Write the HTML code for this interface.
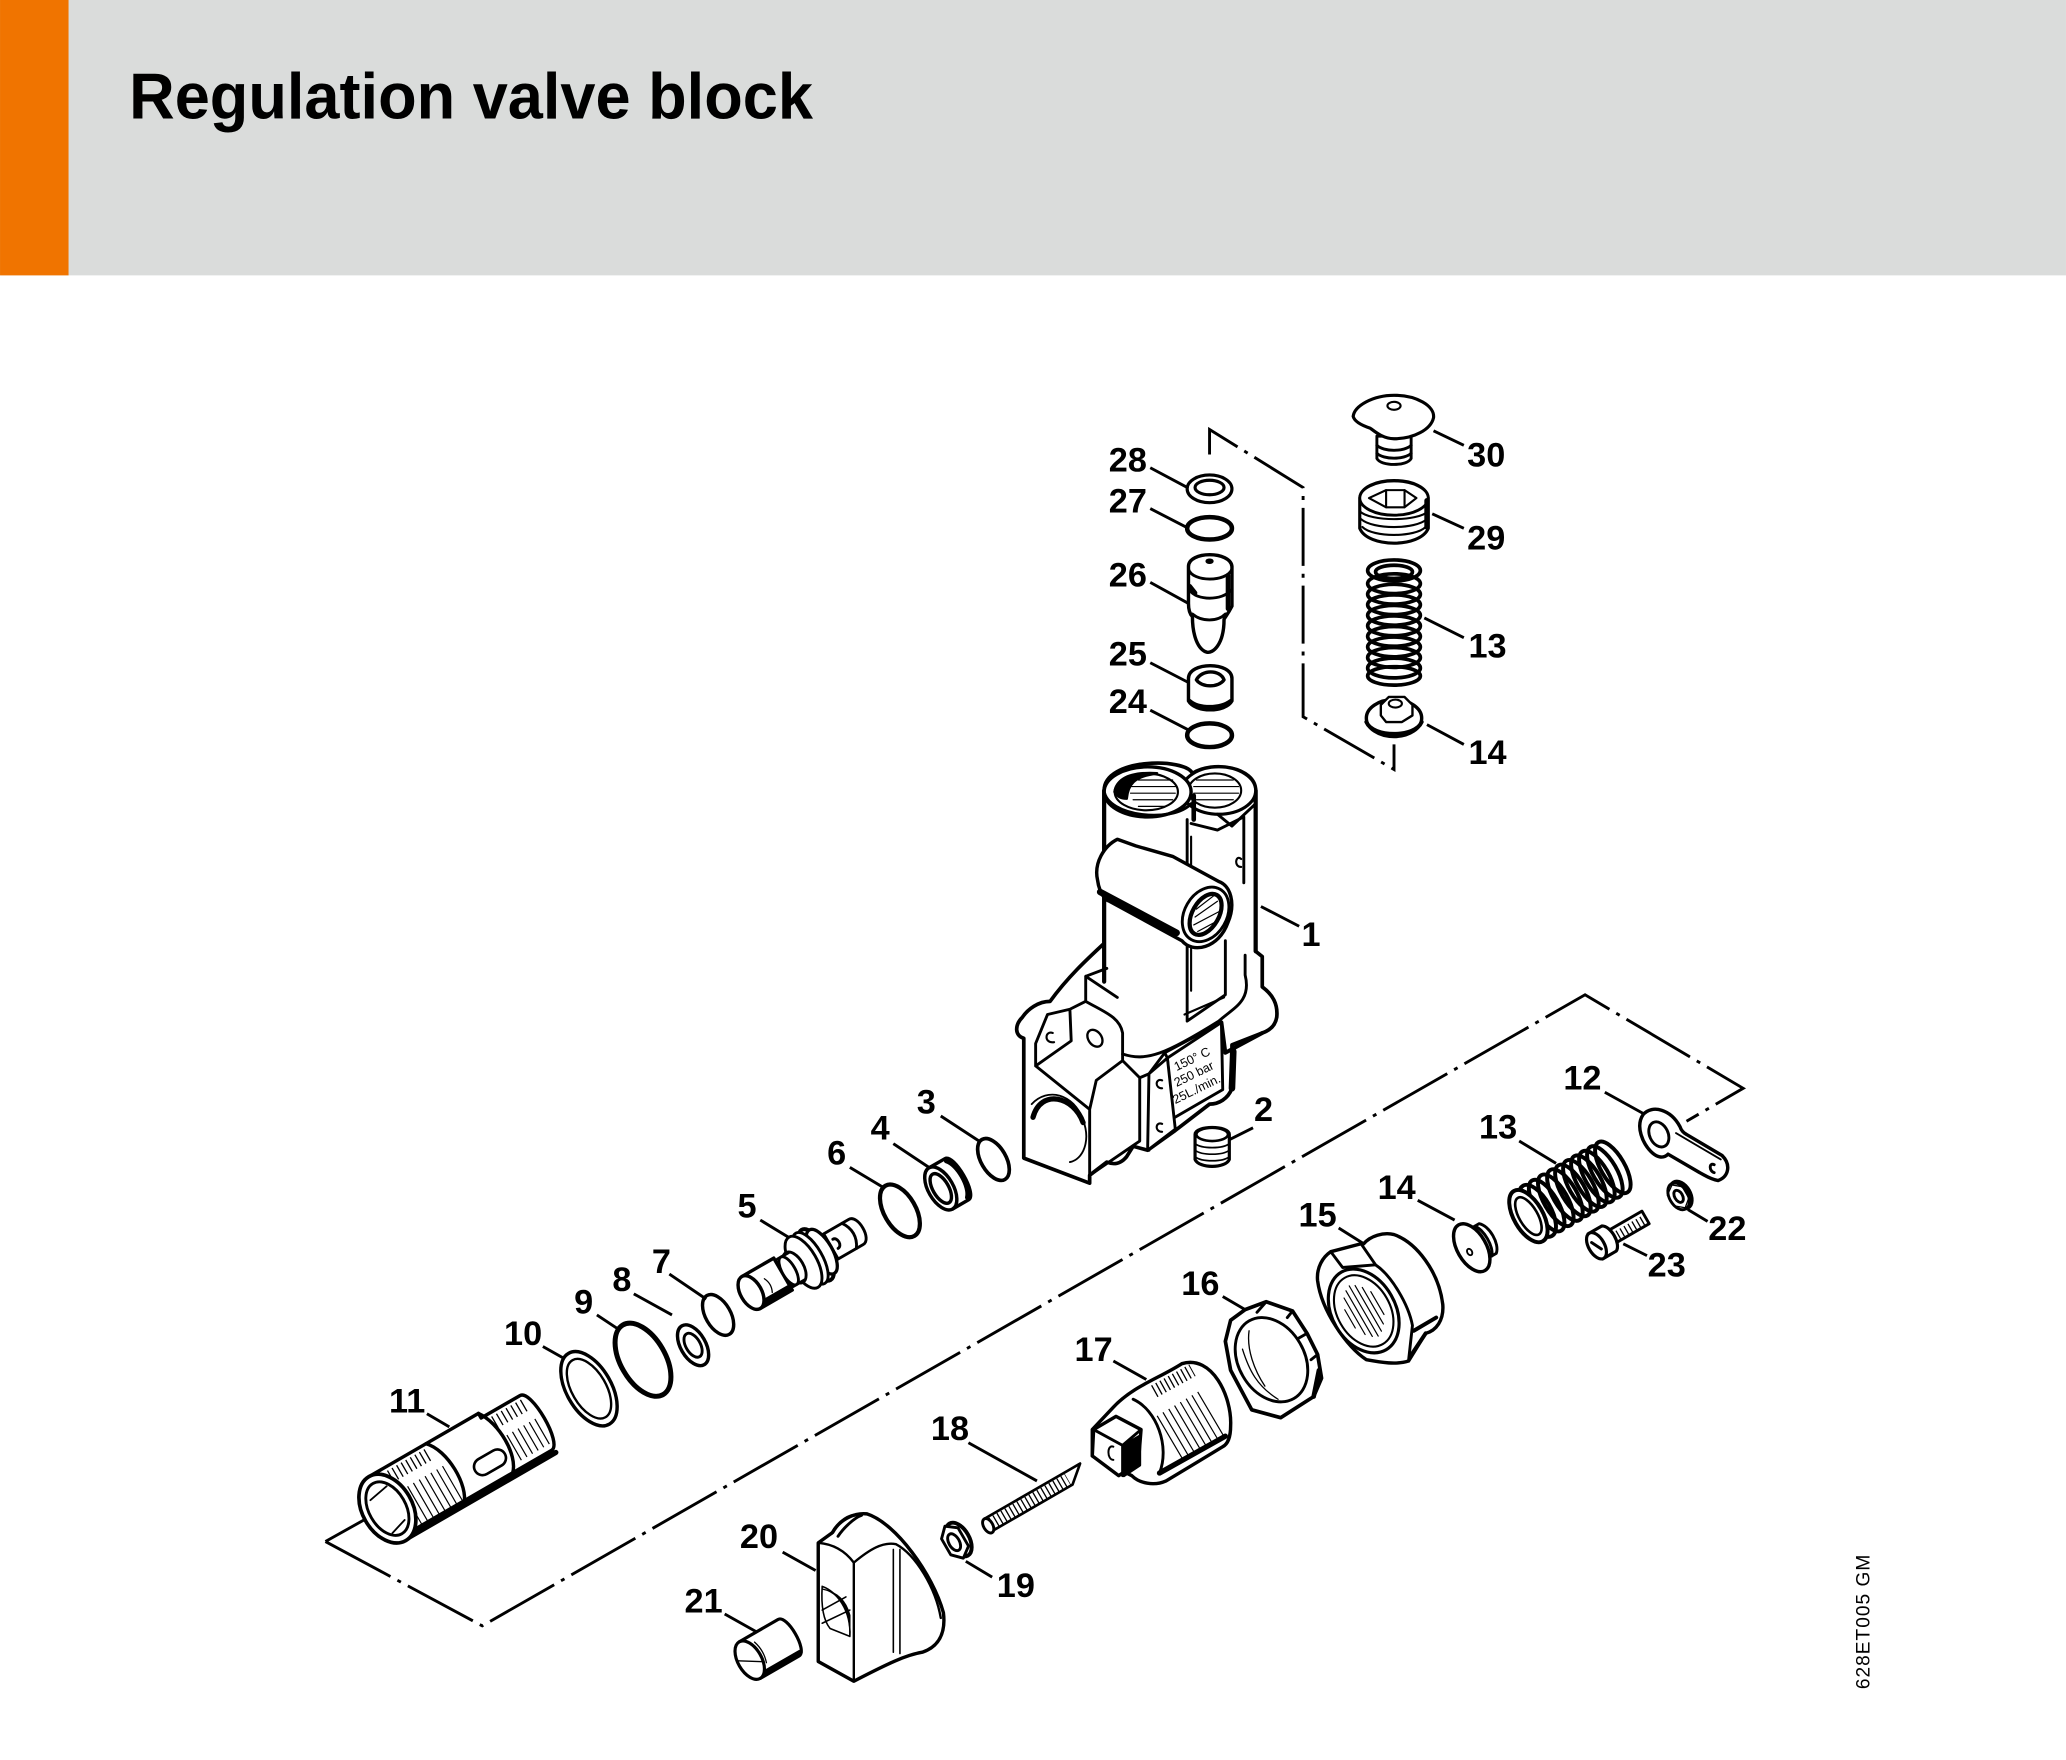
<!DOCTYPE html>
<html><head><meta charset="utf-8"><title>Regulation valve block</title>
<style>html,body{margin:0;padding:0;background:#fff}svg{display:block}
.l{font:bold 26px "Liberation Sans",sans-serif;fill:#000;stroke:none;text-anchor:middle}
.p{font:9.5px "Liberation Sans",sans-serif;fill:#000;stroke:none}
</style></head><body>
<svg width="2066" height="1760" viewBox="0 0 1568 1335.8" xmlns="http://www.w3.org/2000/svg">
<rect width="1568" height="1336" fill="#fff"/>
<rect width="1568" height="209" fill="#dadcdb"/>
<rect width="52" height="209" fill="#f07400"/>
<text x="98" y="90" font-family="Liberation Sans" font-weight="bold" font-size="49" textLength="519" lengthAdjust="spacingAndGlyphs" fill="#000">Regulation valve block</text>

<!-- dash-dot lines -->
<g fill="none" stroke="#000" stroke-width="2.2">
<path d="M918 345V326L989 370V544L1058 584V565" stroke-dasharray="44 6 3 6"/>
<path d="M247 1170L366 1234L1203 755L1323 826L1280 851M247 1170L288 1147" stroke-dasharray="56 6 3 6"/>
</g>

<!-- leaders -->
<g stroke="#000" stroke-width="2.2" fill="none">
<path d="M873 355L903 371M873 386L902 401M873 442L902 458M873 503L902 518M873 539L902 554M1088 327L1111 338M1087 390L1111 401M1081 469L1111 484M1083 550L1111 565M957 688L986 703M933 865L951 856M714 847L743 866M678 868L708 888M645 886L670 901M577 926L600 940M508 967L536 986M481 982L510 998M453 998L468 1008M412 1022L428 1031M324 1073L341 1083M1218 829L1247 845M1153 866L1181 883M1076 911L1104 926M1016 932L1035 944M928 984L945 994M845 1033L870 1047M735 1095L787 1124M733 1185L753 1197M594 1178L619 1192M550 1225L575 1239M1281 918L1296 927M1232 944L1250 953"/>
</g>

<g stroke="#000" stroke-width="2.2" fill="#fff" stroke-linejoin="round" stroke-linecap="round">
<!-- top stack -->
<ellipse cx="918" cy="371" rx="17" ry="10.5" stroke-width="2.4"/><ellipse cx="918" cy="370" rx="11" ry="5.5" stroke-width="2.4"/>
<ellipse cx="918" cy="401" rx="17" ry="8.5" stroke-width="3.4"/>
<path d="M902 430C902 418 934 418 935 430V444L935 460C932 466 930 468 929 470C929 490 920 496 916 495C909 493 905 482 905 468C903 466 902 462 902 458V444Z" stroke-width="2.6"/>
<path d="M902 432C905 442 931 442 935 432M903 448C908 456 928 456 934 448M905 466C912 472 924 472 930 466" fill="none"/>
<path d="M932 437V462M903 445L907 450" fill="none" stroke-width="3.5"/>
<ellipse cx="918" cy="426" rx="2" ry="1"/>
<path d="M902 515C902 502 935 502 935 515V532C930 541 907 541 902 532Z" stroke-width="2.6"/>
<path d="M908 516C912 508 926 508 929 516C925 522 912 522 908 516Z" stroke-width="2.6"/>
<path d="M903 532C910 538 926 538 934 532" fill="none" stroke-width="3"/>
<ellipse cx="918" cy="558" rx="17" ry="9" stroke-width="3.4"/>

<!-- 30 -->
<path d="M1045 331V348C1048 354 1068 354 1071 348V331Z"/>
<path d="M1045 338C1050 343 1066 343 1071 338M1045 344C1050 349 1066 349 1071 344" fill="none"/>
<path d="M1058 300C1075 300 1089 308 1088 317C1086 326 1073 333 1058 333C1050 333 1044 328 1040 325C1034 323 1028 320 1027 316C1028 308 1042 300 1058 300Z" stroke-width="2.4"/>
<ellipse cx="1058" cy="308" rx="5" ry="3" stroke-width="1.6"/>
<!-- 29 -->
<path d="M1032 379C1032 360 1084 360 1084 379V401C1078 416 1038 416 1032 401Z" stroke-width="2.4"/>
<ellipse cx="1058" cy="378" rx="26" ry="13"/>
<path d="M1039 378L1052 372H1066L1075 378L1066 385H1052Z" stroke-width="1.6"/>
<path d="M1052 372V385M1066 372V385" fill="none" stroke-width="1.6"/>
<path d="M1032 388C1040 396 1076 396 1084 388M1033 394C1042 402 1074 402 1083 394M1034 400C1042 408 1074 408 1082 400" fill="none" stroke-width="1.6"/>
<path d="M1083 380V400" fill="none" stroke-width="4"/>
<!-- spring 13 -->
<g fill="none" stroke-width="2.8">
<ellipse cx="1058" cy="433" rx="20" ry="8"/><ellipse cx="1058" cy="434" rx="14" ry="5"/>
<ellipse cx="1058" cy="443" rx="20" ry="7.5"/><ellipse cx="1058" cy="451" rx="20" ry="7.5"/><ellipse cx="1058" cy="459" rx="20" ry="7.5"/><ellipse cx="1058" cy="467" rx="20" ry="7.5"/><ellipse cx="1058" cy="475" rx="20" ry="7.5"/><ellipse cx="1058" cy="483" rx="20" ry="7.5"/><ellipse cx="1058" cy="491" rx="20" ry="7.5"/><ellipse cx="1058" cy="499" rx="20" ry="7.5"/><ellipse cx="1058" cy="507" rx="20" ry="7.5"/><ellipse cx="1058" cy="513" rx="20" ry="7"/>
</g>
<!-- 14 top -->
<ellipse cx="1058" cy="545" rx="21" ry="14" stroke-width="2.6"/>
<path d="M1037 548C1042 560 1074 560 1079 548" fill="none" stroke-width="3"/>
<path d="M1048 535L1054 529H1066L1072 535V543L1064 548H1052L1048 543Z" stroke-width="1.8"/>
<ellipse cx="1059" cy="534" rx="5" ry="3" stroke-width="1.6"/>

<!-- BODY -->
<path d="M777 788C770 786 770 778 776 772C780 766 788 760 797 760C810 742 825 728 838 716V600C838 575 900 575 905 587C920 577 953 582 953 600V722L958 726V749C966 755 970 762 969 772C968 778 964 782 958 784L935 793V826C932 834 925 838 918 838L892 858L871 873L860 870L855 878C850 884 845 884 840 882L827 892V898L777 879Z" stroke-width="2.8"/>
<path d="M812 766L824 760V741L840 735M838 716V745M824 741L848 757M786 809V792L795 770L812 766L813 790L786 809M786 809L827 842V892M827 842L832 820L852 805V784C850 772 838 768 824 760M852 805L865 818V866L827 892M865 818L872 815V873M872 815L884 799L927 776M884 799L886 803" fill="none"/>
<path d="M927 776L930 799L958 784" fill="none" stroke-width="3"/>
<path d="M838 745L838 716M953 722L953 600M838 600V716" fill="none" stroke-width="3.2"/>
<path d="M852 800C870 806 885 800 925 775C936 765 950 760 945 740V725" fill="none"/>
<path d="M936 798L935 826" fill="none" stroke-width="5"/>
<path d="M901 622V775L930 755V714" fill="none"/>
<path d="M899 770L929 757M904 635V752" fill="none" stroke-width="1.6"/>
<path d="M944 620V670M904 625L924 630L944 620" fill="none"/>
<!-- plate -->
<path d="M886 803L927 776L928 827L890 849Z"/>
<text class="p" transform="translate(893,813) rotate(-26)">150° C</text>
<text class="p" transform="translate(893,825) rotate(-26)">250 bar</text>
<text class="p" transform="translate(892,838) rotate(-26)">25L./min.</text>
<path d="M872 815L886 803L892 857L871 873Z"/>
<path d="M882 820C877 818 876 826 882 826M882 853C877 851 876 859 882 859M799 784C793 782 792 792 800 791M942 652C938 648 936 658 942 658" fill="none" stroke-width="1.6"/>
<ellipse cx="831" cy="788" rx="5" ry="7" transform="rotate(-35 831 788)" stroke-width="1.8"/>
<!-- front hole -->
<path d="M783 838C795 825 815 830 822 850C828 866 822 880 812 882" fill="none" stroke-width="1.4"/>
<path d="M784 848C790 826 815 832 822 852" fill="none" stroke-width="4"/>
<!-- top bosses -->
<ellipse cx="925" cy="600" rx="28" ry="18" stroke-width="2.4"/>
<ellipse cx="922" cy="600" rx="20" ry="13" stroke-width="1.6"/>
<path d="M908 592H936M906 597H940M906 602H940M908 607H936" fill="none" stroke-width="0.9"/>
<path d="M906 604V622" fill="none" stroke-width="3.5"/>
<path d="M924 618L935 627L953 610" fill="none"/>
<ellipse cx="871" cy="601" rx="33" ry="19" stroke-width="2.6"/>
<ellipse cx="870" cy="601" rx="24" ry="14" stroke-width="1.6"/>
<path d="M846 601C848 590 860 586 878 587C860 589 856 596 855 606C850 606 848 604 846 601Z" fill="#000"/>
<path d="M864 592H890M858 597H892M858 602H892M860 607H890M864 612H884" fill="none" stroke-width="0.9"/>
<path d="M838 600C840 620 890 625 904 610" fill="none"/>
<!-- cross boss -->
<path d="M848 637C838 642 830 655 833 668C834 676 838 683 842 684L897 714C905 724 925 720 932 700C938 686 934 672 925 669L890 650L862 642Z" stroke-width="2.6"/>
<path d="M835 677L893 708" fill="none" stroke-width="5"/>
<ellipse cx="915" cy="694" rx="16" ry="22" transform="rotate(30 915 694)" />
<ellipse cx="915" cy="694" rx="10" ry="17" transform="rotate(30 915 694)" stroke-width="3.2"/>
<path d="M908 690L921 680M907 696L924 684M906 702L925 692M909 707L922 700" stroke-width="0.9" fill="none"/>

<!-- 2 -->
<path d="M907 861C907 854 933 854 933 861V880C930 887 910 887 907 880Z" stroke-width="2.4"/>
<ellipse cx="920" cy="861" rx="12" ry="5" stroke-width="2"/>
<path d="M907 868C912 872 928 872 933 868M907 873C912 877 928 877 933 873M907 878C912 882 928 882 933 878" fill="none" stroke-width="1.3"/>

<!-- diagonal rings -->
<ellipse transform="translate(754,880) rotate(-30)" rx="9.5" ry="17.5" fill="none" stroke-width="2.8"/>
<ellipse transform="translate(683,919) rotate(-30)" rx="12" ry="22" fill="none" stroke-width="3.2"/>
<ellipse transform="translate(545,998) rotate(-30)" rx="9.5" ry="17" fill="none" stroke-width="2.6"/>
<ellipse transform="translate(526,1021) rotate(-30)" rx="9.5" ry="17" stroke-width="2.6"/>
<ellipse transform="translate(526,1021) rotate(-30)" rx="5.5" ry="10"/>
<ellipse transform="translate(488,1032) rotate(-30)" rx="17" ry="30.5" fill="none" stroke-width="3.8"/>
<ellipse transform="translate(447,1054) rotate(-30)" rx="17" ry="31" stroke-width="2.6"/>
<ellipse transform="translate(447,1054) rotate(-30)" rx="13" ry="25" stroke-width="1.8"/>

<!-- 4 -->
<g transform="translate(714,902) rotate(-30)">
<path d="M0 -18H14C22 -18 22 18 14 18H0Z" stroke-width="2.6"/>
<ellipse rx="9.5" ry="18" stroke-width="2.6"/><ellipse rx="6" ry="12.5" stroke-width="2.6"/>
<path d="M14 -16C20 -10 20 10 14 16" fill="none" stroke-width="3.5"/>
</g>

<!-- 5 -->
<g transform="translate(570,981) rotate(-30)">
<path d="M70 -11H92C100 -11 100 11 92 11H70Z"/>
<path d="M86 -11C91 -4 91 4 86 11" fill="none"/>
<path d="M74 -4C78 -4 78 4 74 4" />
<path d="M0 -14H28V14H0Z" stroke-width="2.6"/>
<path d="M2 11H28" fill="none" stroke-width="4"/>
<ellipse rx="8" ry="14" stroke-width="2.6"/>
<path d="M14 -4C16 0 16 4 14 8" fill="none" stroke-width="1"/>
<ellipse cx="57" cy="0" rx="9" ry="22" stroke-width="3"/>
<ellipse cx="62" cy="0" rx="8" ry="19" stroke-width="2.5"/>
<ellipse cx="52" cy="0" rx="9" ry="22"/>
<ellipse cx="46" cy="0" rx="10" ry="22"/>
<ellipse cx="38" cy="0" rx="7" ry="13"/>
<path d="M30 -12L40 -12M30 12H40" fill="none"/>
<ellipse cx="33" cy="0" rx="5" ry="12"/>
</g>

<!-- 11 -->
<g transform="translate(294,1145) rotate(-30)">
<path d="M0 -28H96V-24H130C140 -24 140 24 130 24H96V24H0Z" stroke-width="2.6"/>
<path d="M2 27H132" fill="none" stroke-width="4"/>
<path d="M50 -28C62 -16 62 16 52 26" fill="none" stroke-width="2.6"/>
<path d="M96 -28C106 -14 106 14 96 24" fill="none" stroke-width="2.6"/>
<line x1="10" y1="-20" x2="50" y2="-20" stroke-width="10" stroke-dasharray="1 3" stroke-linecap="butt"/>
<line x1="6" y1="8" x2="54" y2="8" stroke-width="30" stroke-dasharray="0.9 4.2" stroke-linecap="butt"/>
<line x1="103" y1="-16" x2="132" y2="-16" stroke-width="10" stroke-dasharray="1 3.2" stroke-linecap="butt"/>
<line x1="106" y1="8" x2="132" y2="8" stroke-width="22" stroke-dasharray="0.9 4" stroke-linecap="butt"/>
<rect x="72" y="2" width="26" height="13" rx="6.5" stroke-width="2"/>
<ellipse rx="19" ry="28" stroke-width="2.8"/>
<ellipse rx="14" ry="22"/>
<path d="M-8 -12L8 -15M-6 18L7 14" fill="none" stroke-width="1.4"/>
</g>

<!-- 12 -->
<path d="M1247 846C1254 838 1268 842 1275 855C1276 858 1278 860 1280 861L1307 877C1314 884 1312 893 1304 896C1298 895 1294 892 1290 890L1266 876C1262 880 1257 878 1253 874C1247 868 1241 855 1247 846Z" stroke-width="2.6"/>
<ellipse cx="1259" cy="861" rx="7" ry="10" transform="rotate(-25 1259 861)" stroke-width="2.2"/>
<path d="M1301 884C1297 882 1297 889 1301 890" fill="none"/>
<path d="M1272 860L1306 880" fill="none" stroke-width="1.4"/>

<!-- 13 spring -->
<g transform="translate(1160,923) rotate(-30)" fill="none" stroke-width="3">
<ellipse cx="74" cy="0" rx="9" ry="22"/>
<ellipse cx="67" cy="0" rx="9" ry="22"/><ellipse cx="60" cy="0" rx="9" ry="22"/><ellipse cx="53" cy="0" rx="9" ry="22"/><ellipse cx="46" cy="0" rx="9" ry="22"/><ellipse cx="39" cy="0" rx="9" ry="22"/><ellipse cx="32" cy="0" rx="9" ry="22"/><ellipse cx="24" cy="0" rx="9" ry="22"/><ellipse cx="16" cy="0" rx="9" ry="22"/><ellipse cx="8" cy="0" rx="10" ry="22"/>
<ellipse cx="0" cy="0" rx="11" ry="22" fill="#fff"/>
<ellipse cx="0" cy="0" rx="7" ry="16" stroke-width="2"/>
</g>

<!-- 14 lower -->
<g transform="translate(1117,947) rotate(-30)">
<path d="M2 -13H14C20 -8 20 8 14 13H2Z"/>
<path d="M10 -13C15 -8 15 8 10 13" fill="none"/>
<ellipse rx="11" ry="20" stroke-width="2.6"/>
<ellipse cx="-3" cy="2" rx="1.8" ry="2.6" stroke-width="1.4"/>
</g>

<!-- 22 -->
<g transform="translate(1274,908) rotate(-30)">
<ellipse cx="2" rx="7" ry="11" stroke-width="3"/><ellipse cx="0" rx="7" ry="11"/>
<path d="M-7 -5L0 -10L6 -5L6 5L0 10L-6 5Z" fill="none" stroke-width="1"/>
<ellipse cx="0" rx="3" ry="5" />
</g>

<!-- 23 -->
<g transform="translate(1216,943) rotate(-30)">
<rect x="4" y="-5.5" width="34" height="11" stroke-width="2.2"/>
<line x1="6" y1="1" x2="37" y2="1" stroke-width="7" stroke-dasharray="1 2.5" stroke-linecap="butt"/>
<path d="M-6 -11H6C12 -8 12 8 6 11H-6Z" stroke-width="2.4"/>
<ellipse cx="-5" rx="6" ry="11" stroke-width="2.4"/>
<path d="M-7 -4L-3 4" fill="none"/>
</g>

<!-- 15 -->
<path d="M1035 944C1040 938 1050 935 1058 937C1075 943 1092 965 1095 990C1096 1002 1090 1010 1082 1012L1069 1033C1060 1036 1048 1034 1037 1032C1022 1022 1003 995 1000 972C999 962 1004 954 1010 950L1033 944Z" stroke-width="2.6"/>
<path d="M1010 950L1019 962L1044 960L1033 944M1044 960C1056 968 1069 990 1072 1006L1069 1033" fill="none"/>
<path d="M1073 1010L1090 1000M1070 1030L1082 1012" fill="none" stroke-width="3"/>
<ellipse cx="1035" cy="995" rx="24" ry="34" transform="rotate(-30 1035 995)" stroke-width="2.4"/>
<ellipse cx="1035" cy="995" rx="20" ry="29" transform="rotate(-30 1035 995)" stroke-width="1.6"/>
<g transform="translate(1035,995) rotate(-30)" fill="none" stroke-width="0.9">
<path d="M-12 -8V8M-8 -16V16M-4 -20V20M0 -22V22M4 -20V20M8 -16V16M12 -10V10" />
</g>

<!-- 16 -->
<path d="M945 994L961 988L981 995L992 1012L1000 1028L1003 1046L997 1060L972 1076L950 1070L934 1040L930 1018L934 1002Z" stroke-width="2.8"/>
<path d="M961 988L954 996M981 995L977 1000M992 1012L985 1016M1000 1028L995 1032" fill="none"/>
<path d="M997 1060L1001 1040" fill="none" stroke-width="3.5"/>
<ellipse cx="965" cy="1032" rx="25" ry="34" transform="rotate(-30 965 1032)" stroke-width="2.2"/>
<path d="M948 1010C946 1024 952 1040 960 1052M943 1024C948 1040 954 1052 970 1062" fill="none" stroke-width="1"/>

<!-- 17 -->
<path d="M845 1068C860 1052 880 1046 897 1035C920 1028 935 1060 934 1082C934 1090 932 1096 928 1098C915 1106 895 1118 885 1124C876 1128 865 1126 859 1120L849 1115L829 1105V1085L845 1068Z" fill="#fff" stroke-width="2.6"/>
<path d="M880 1118L930 1090" fill="none" stroke-width="4"/>
<line x1="888" y1="1092" x2="922" y2="1072" stroke-width="40" stroke-dasharray="0.9 4.2" stroke-linecap="butt"/>
<path d="M860 1062C878 1070 888 1098 880 1118" fill="none"/>
<line x1="876" y1="1056" x2="905" y2="1040" stroke-width="10" stroke-dasharray="1 2.6" stroke-linecap="butt"/>
<path d="M830 1085L847 1075L866 1085L864 1110L849 1120L829 1105Z" stroke-width="2.6"/>
<path d="M830 1085L852 1097L866 1085M852 1097V1120" fill="none"/>
<path d="M853 1097L865 1090V1112L853 1120Z" fill="#000"/>
<path d="M845 1098C840 1096 840 1108 845 1108" fill="none" stroke-width="1.5"/>

<!-- 18 -->
<g transform="translate(750,1158) rotate(-30)">
<path d="M0 -6H72L84 -6L71 5H0Z" stroke-width="2"/>
<line x1="3" y1="0" x2="70" y2="0" stroke-width="10" stroke-dasharray="1 2.5" stroke-linecap="butt"/>
<ellipse cx="0" cy="0" rx="3.5" ry="6"/>
</g>

<!-- 19 -->
<g transform="translate(725,1170) rotate(-30)">
<ellipse cx="3" rx="8" ry="14" stroke-width="3"/>
<path d="M-8 -7L-1 -14L7 -8L7 8L-1 14L-8 7Z"/>
<ellipse cx="-1" rx="4" ry="7"/>
</g>

<!-- 20 -->
<path d="M621 1171L632 1163C638 1152 650 1148 658 1149C680 1156 708 1195 716 1224C718 1240 712 1250 700 1254C688 1256 675 1262 648 1276L621 1261Z" stroke-width="2.6"/>
<path d="M621 1171C633 1172 642 1178 648 1186V1276M648 1186C660 1176 670 1170 680 1172C695 1180 710 1205 714 1228" fill="none" stroke-width="1.8"/>
<path d="M631 1164C636 1155 645 1148 654 1150C648 1152 640 1160 636 1166" fill="none"/>
<path d="M678 1176V1254M683 1176V1255" fill="none" stroke-width="1.2"/>
<path d="M624 1204C635 1208 646 1222 645 1242L630 1236C625 1230 623 1220 624 1204Z" fill="#fff" stroke-width="1.2"/>
<path d="M624 1206C636 1208 646 1222 645 1242V1226C642 1214 634 1208 624 1206Z" fill="#000" stroke-width="1"/>
<path d="M624 1222L642 1212M624 1232L645 1222" fill="none" stroke-width="1.2"/>

<!-- 21 -->
<g transform="translate(569,1260) rotate(-30)">
<path d="M0 -16H34C42 -16 42 16 34 16H0Z" stroke-width="2.4"/>
<path d="M2 14H36" fill="none" stroke-width="4"/>
<ellipse rx="9" ry="16" stroke-width="2.4"/>
<path d="M-8 -4L8 6M10 -10C12 -4 12 2 10 8" fill="none" stroke-width="1"/>
</g>
</g>

<!-- labels -->
<g>
<text class="l" x="856" y="358">28</text><text class="l" x="856" y="389">27</text><text class="l" x="856" y="445">26</text><text class="l" x="856" y="505">25</text><text class="l" x="856" y="541">24</text>
<text class="l" x="1128" y="354">30</text><text class="l" x="1128" y="417">29</text><text class="l" x="1129" y="499">13</text><text class="l" x="1129" y="580">14</text>
<text class="l" x="995" y="718">1</text><text class="l" x="959" y="851">2</text><text class="l" x="703" y="845">3</text><text class="l" x="668" y="865">4</text><text class="l" x="635" y="884">6</text><text class="l" x="567" y="924">5</text>
<text class="l" x="502" y="966">7</text><text class="l" x="472" y="980">8</text><text class="l" x="443" y="997">9</text><text class="l" x="397" y="1021">10</text><text class="l" x="309" y="1072">11</text>
<text class="l" x="1201" y="827">12</text><text class="l" x="1137" y="864">13</text><text class="l" x="1060" y="910">14</text><text class="l" x="1000" y="931">15</text><text class="l" x="911" y="983">16</text><text class="l" x="830" y="1033">17</text>
<text class="l" x="721" y="1093">18</text><text class="l" x="771" y="1212">19</text><text class="l" x="576" y="1175">20</text><text class="l" x="534" y="1224">21</text><text class="l" x="1311" y="941">22</text><text class="l" x="1265" y="969">23</text>
</g>
<text transform="translate(1419,1282) rotate(-90)" font-family="Liberation Sans" font-size="14.5" textLength="102" fill="#000">628ET005 GM</text>
</svg>
</body></html>
